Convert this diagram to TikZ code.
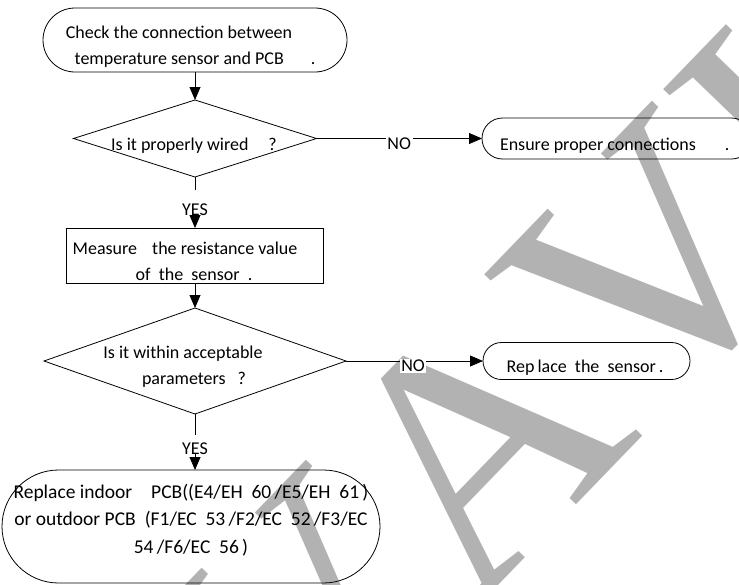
\documentclass[tikz,border=0pt]{standalone}
\usepackage{fontspec}
\setmainfont{Carlito}
\newfontfamily\wmfont[Kerning=Off]{Liberation Serif}
\usetikzlibrary{arrows.meta,shapes.geometric}
\begin{document}
\begin{tikzpicture}[x=1pt,y=-1pt,
  every node/.style={inner sep=0pt, outer sep=0pt},
  ln/.style={line width=0.8pt},
  arr/.style={line width=0.8pt, -{Triangle[width=11pt,length=13pt]}},
  term/.style={draw, line width=0.8pt, rectangle, rounded corners=#1},
  box/.style={draw, line width=0.8pt, rectangle},
  dec/.style={draw, line width=0.8pt, diamond},
  txt/.style={font=\fontsize{18}{25.5}\selectfont, align=center, anchor=base},
  txtb/.style={font=\fontsize{19.5}{27.5}\selectfont, align=center, anchor=base},
  lbl/.style={font=\fontsize{18}{22}\selectfont, fill=white, inner sep=1.5pt, yshift=-5pt},
  wm/.style={font=\wmfont\fontsize{345}{345}\selectfont, text=black!30, anchor=base}
]
\useasboundingbox (0,0) rectangle (739,584);
\clip (0,0) rectangle (739,584);
% watermark
\node[wm, rotate=46] (wm) at (598,483) {VAVI};
% main column
\node[term=32pt, minimum width=304pt, minimum height=64pt] (t1) at (195,40) {};
\node[txt] (t1t) at (195,64) {Check the connection between\hspace*{32pt}\\temperature sensor and PCB\hspace{27pt}.};
\node[dec, minimum width=243pt, minimum height=77pt] (d1) at (195,138.5) {};
\node[txt] (d1t) at (194,150) {Is it properly wired\hspace{20pt}?};
\draw[arr] (t1.south) -- (d1.north);
\node[term=20.5pt, minimum width=270pt, minimum height=41pt] (e1) at (617,138.5) {};
\node[txt, anchor=base west] (e1t) at (500,150) {Ensure proper connections\hspace{29pt}.};
\draw[arr] (d1.east) -- (e1.west) node[lbl, pos=0.5] (no1) {NO};
\coordinate (y1a) at (195,190);
\draw[ln] (d1.south) -- (y1a);
\node[txt] (yes1) at (195,215) {YES};
\node[box, minimum width=257pt, minimum height=55pt] (m) at (195,255.5) {};
\draw[arr] (yes1.south) -- (m.north);
\node[txt] (mt) at (194,280) {Measure\hspace{11pt} the resistance value\hspace*{18pt}\\of\ \ the\ \ sensor\ \ .};
\node[dec, minimum width=302pt, minimum height=106pt] (d2) at (195,361) {};
\draw[arr] (m.south) -- (d2.north);
\node[txt] (d2t) at (194,384) {Is it within acceptable\hspace*{22pt}\\parameters\hspace{12pt}?};
\node[term=18.5pt, minimum width=207pt, minimum height=37pt] (r1) at (586.5,361) {};
\node[txt] (r1t) at (585,372) {Rep\,lace\ \ the\ \ sensor\,.};
\draw[arr] (d2.east) -- (r1.west) node[lbl, pos=0.49] (no2) {NO};
\coordinate (y2a) at (195,435);
\draw[ln] (d2.south) -- (y2a);
\node[txt] (yes2) at (195,454) {YES};
\node[term=56.5pt, minimum width=378pt, minimum height=113pt] (b1) at (191,526.5) {};
\draw[arr] (yes2.south) -- (yes2.south |- b1.north);
\node[txtb] (b1t) at (191,553) {Replace indoor\hspace{19pt}PCB((E4/EH\ \ 60\,/E5/EH\ \ 61\,)\\or outdoor PCB\hspace{9pt}(F1/EC\ \ 53\,/F2/EC\ \ 52\,/F3/EC\\54\,/F6/EC\ \ 56\,)};
\end{tikzpicture}
\end{document}
